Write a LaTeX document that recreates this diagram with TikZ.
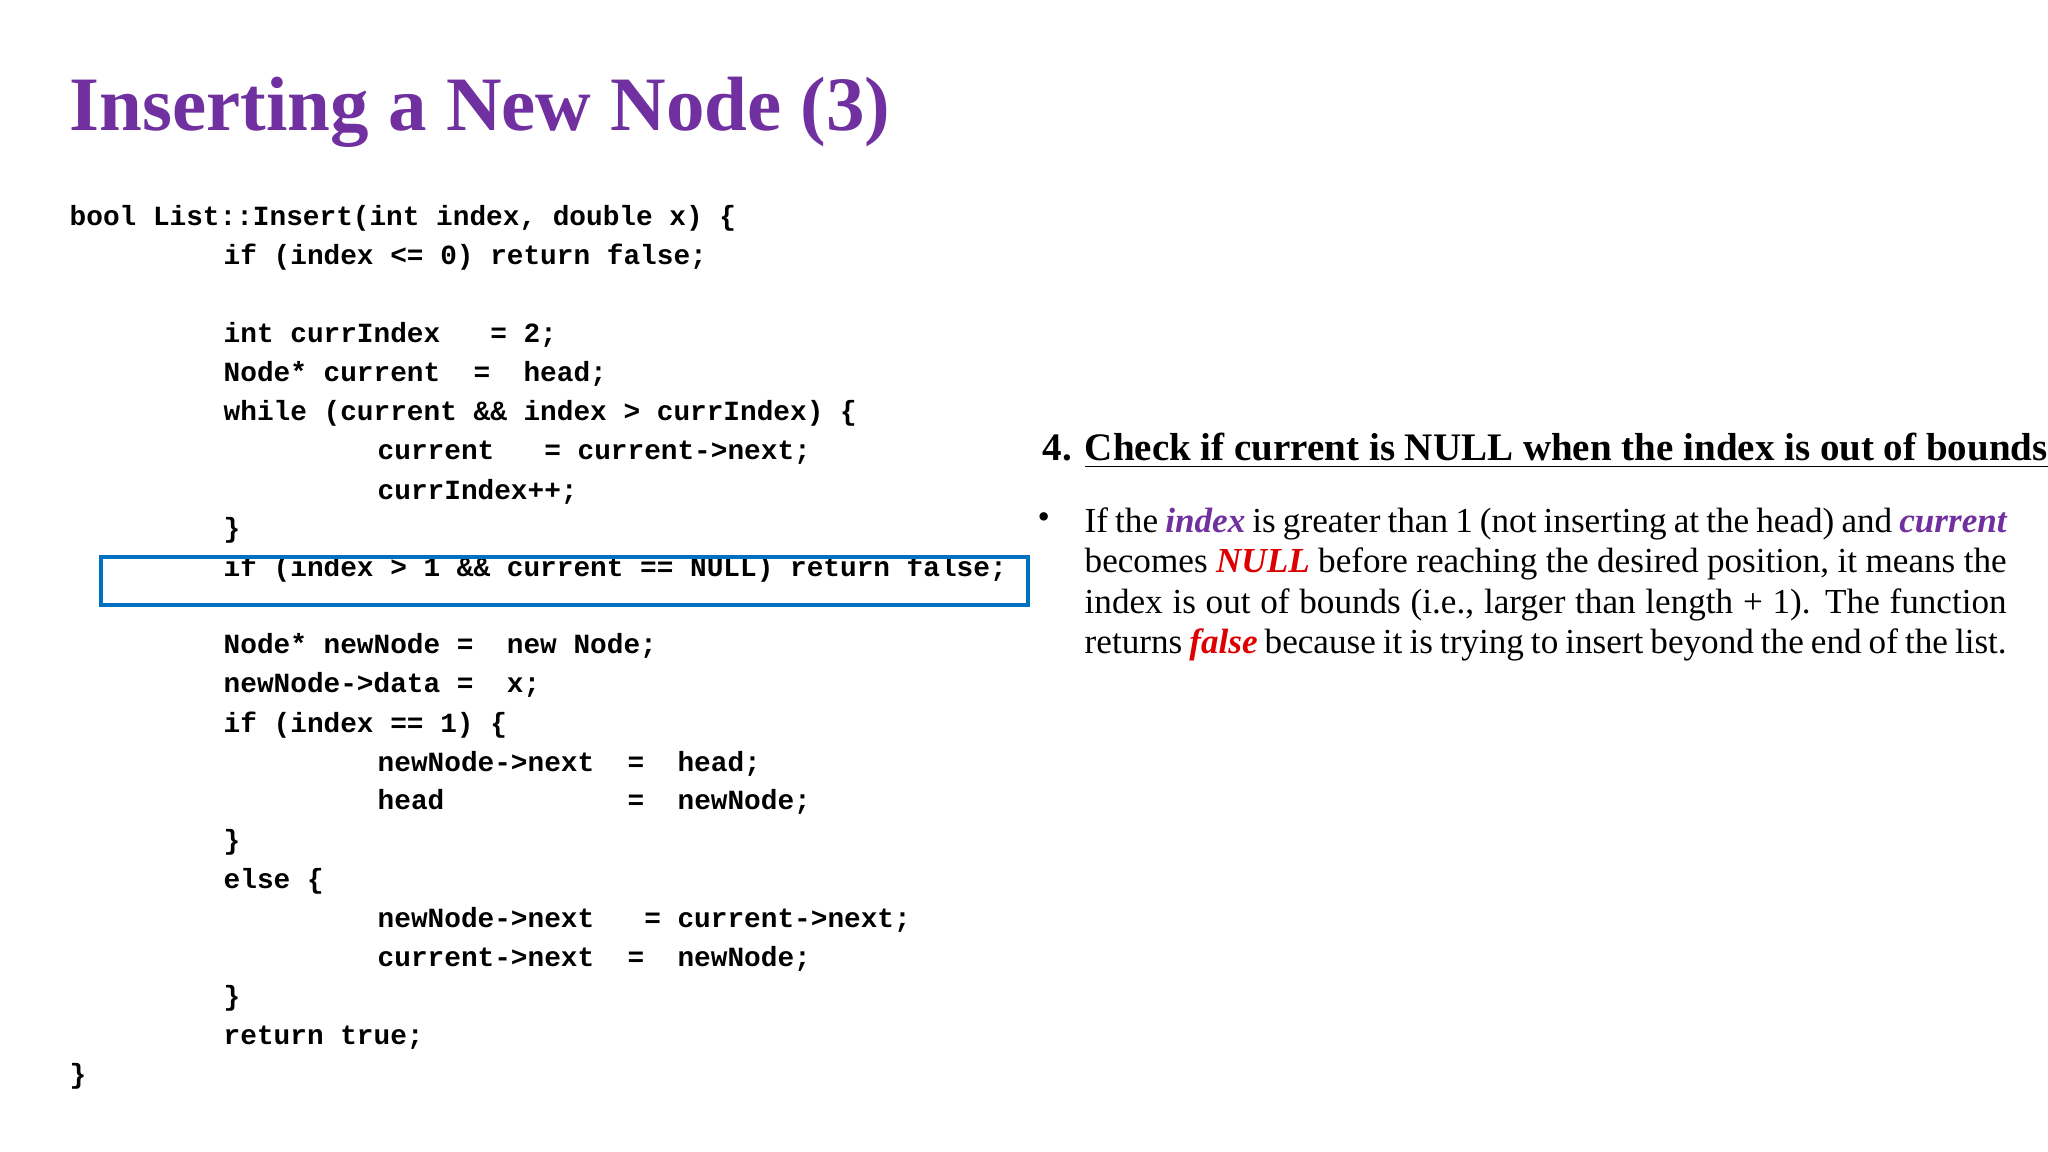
\documentclass[tikz,border=0pt]{standalone}
\usepackage{fontspec}
\setmainfont{Liberation Serif}
\setmonofont{Liberation Mono}
\usepackage{tikz}
\usetikzlibrary{positioning}
\definecolor{titlepurple}{RGB}{112,48,160}
\definecolor{boxblue}{RGB}{0,112,192}
\definecolor{hotred}{RGB}{220,0,0}
\tikzset{
  codeline/.style={anchor=base west, inner sep=0pt, font=\ttfamily\bfseries\fontsize{7.9}{9}\selectfont},
  title/.style={anchor=base west, inner sep=0pt, font=\bfseries\fontsize{21.9}{26}\selectfont, text=titlepurple},
  hilite/.style={draw=boxblue, line width=1.2pt},
}
\newcommand{\kw}[1]{\textbf{\textit{\color{titlepurple}#1}}}
\newcommand{\bad}[1]{\textbf{\textit{\color{hotred}#1}}}
\begin{document}
\begin{tikzpicture}[x=1cm,y=-1cm]
  \useasboundingbox (0,0) rectangle (20.48,11.52);
  \node[title] (head) at (0.69,1.31) {Inserting a New Node (3)};

  % code listing
  \node[codeline] (c1)  at (0.69,2.26) {bool List::Insert(int index, double x) \{};
  \node[codeline] (c2)  at (2.23,2.65) {if (index <= 0) return false;};
  \node[codeline] (c3)  at (2.23,3.43) {int currIndex\ \ \ = 2;};
  \node[codeline] (c4)  at (2.23,3.82) {Node* current\ \ =\ \ head;};
  \node[codeline] (c5)  at (2.23,4.21) {while (current \&\& index > currIndex) \{};
  \node[codeline] (c6)  at (3.77,4.60) {current\ \ \ = current->next;};
  \node[codeline] (c7)  at (3.77,4.99) {currIndex++;};
  \node[codeline] (c8)  at (2.23,5.38) {\}};
  \node[codeline] (c9)  at (2.23,5.77) {if (index > 1 \&\& current == NULL) return false;};
  \node[codeline] (c10) at (2.23,6.54) {Node* newNode =\ \ new Node;};
  \node[codeline] (c11) at (2.23,6.93) {newNode->data =\ \ x;};
  \node[codeline] (c12) at (2.23,7.32) {if (index == 1) \{};
  \node[codeline] (c13) at (3.77,7.71) {newNode->next\ \ =\ \ head;};
  \node[codeline] (c14) at (3.77,8.10) {head\ \ \ \ \ \ \ \ \ \ \ =\ \ newNode;};
  \node[codeline] (c15) at (2.23,8.49) {\}};
  \node[codeline] (c16) at (2.23,8.88) {else \{};
  \node[codeline] (c17) at (3.77,9.27) {newNode->next\ \ \ = current->next;};
  \node[codeline] (c18) at (3.77,9.66) {current->next\ \ =\ \ newNode;};
  \node[codeline] (c19) at (2.23,10.05) {\}};
  \node[codeline] (c20) at (2.23,10.44) {return true;};
  \node[codeline] (c21) at (0.69,10.83) {\}};

  % highlight box
  \draw[hilite] (1.01,5.57) rectangle (10.28,6.05);

  % explanation
  \node[anchor=base west, inner sep=0pt, font=\bfseries\fontsize{11.1}{13}\selectfont] (step)
    at (10.42,4.61) {4. \underline{Check if current is NULL when the index is out of bounds}};
  \node[anchor=base west, inner sep=0pt] (dot) at (10.37,5.29) {\fontsize{10}{12}\selectfont\textbullet};
  \node[anchor=north west, inner sep=0pt, text width=9.22cm, align=justify,
        font=\fontsize{10}{11.5}\selectfont] (body) at (10.84,5.07)
    {If the \kw{index} is greater than 1 (not inserting at the head) and \kw{current}\linebreak
     becomes \bad{NULL} before reaching the desired position, it means the\linebreak
     index is out of bounds (i.e., larger than length + 1). The function\linebreak
     returns \bad{false} because it is trying to insert beyond the end of the list.};
\end{tikzpicture}
\end{document}
